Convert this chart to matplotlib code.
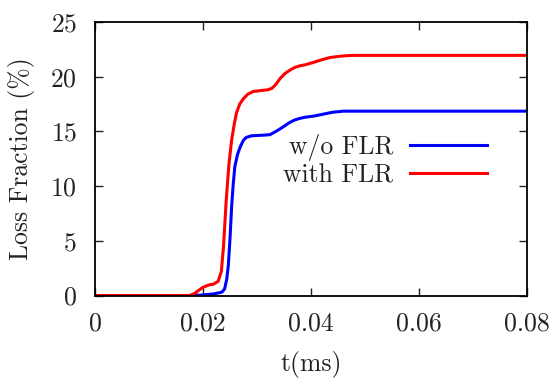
import matplotlib
matplotlib.use("Agg")
import matplotlib.pyplot as plt

plt.rcParams["font.family"] = ["cmr10", "DejaVu Serif"]
plt.rcParams["axes.formatter.use_mathtext"] = True
plt.rcParams["mathtext.fontset"] = "cm"

# Loss fraction (%) vs time (ms)
t_wo = [0.0, 0.018, 0.020, 0.022, 0.0235, 0.024, 0.0244, 0.0247, 0.025, 0.0253,
        0.0256, 0.0259, 0.0264, 0.0269, 0.0275, 0.028, 0.029, 0.031, 0.0324,
        0.0335, 0.0345, 0.036, 0.037, 0.038, 0.039, 0.0405, 0.042, 0.044,
        0.046, 0.06, 0.08]
loss_wo = [0.0, 0.0, 0.05, 0.15, 0.3, 0.6, 1.5, 2.8, 5.2, 8.1,
           10.2, 11.8, 12.9, 13.6, 14.2, 14.45, 14.6, 14.65, 14.7,
           15.0, 15.3, 15.8, 16.05, 16.2, 16.3, 16.4, 16.55, 16.75,
           16.85, 16.85, 16.85]

t_with = [0.0, 0.0175, 0.0185, 0.019, 0.020, 0.021, 0.022, 0.0228, 0.0234, 0.0238,
          0.0243, 0.0248, 0.0253, 0.0258, 0.0262, 0.0268, 0.0275, 0.0283, 0.0293,
          0.031, 0.032, 0.0328, 0.0335, 0.0343, 0.0352, 0.0361, 0.037, 0.038,
          0.039, 0.0404, 0.042, 0.0435, 0.045, 0.0465, 0.048, 0.06, 0.08]
loss_with = [0.0, 0.0, 0.2, 0.4, 0.75, 0.95, 1.05, 1.3, 2.2, 4.5,
             8.7, 12.0, 14.2, 15.7, 16.7, 17.5, 18.0, 18.4, 18.65,
             18.75, 18.8, 18.95, 19.3, 19.85, 20.3, 20.6, 20.85, 21.0,
             21.1, 21.3, 21.55, 21.75, 21.85, 21.92, 21.95, 21.95, 21.95]

labels = ["w/o FLR", "with FLR"]
x_ticks = [0, 0.02, 0.04, 0.06, 0.08]
x_tick_labels = ["0", "0.02", "0.04", "0.06", "0.08"]
y_ticks = [0, 5, 10, 15, 20, 25]

fs = 18.5
fig = plt.figure(figsize=(5.52, 3.85), dpi=100)
ax = fig.add_axes([95 / 552, 1 - 295.5 / 385, 432 / 552, 273.5 / 385])

ax.plot(t_wo, loss_wo, color="#0000ff", linewidth=2.2, label=labels[0])
ax.plot(t_with, loss_with, color="#ff0000", linewidth=2.2, label=labels[1])

ax.set_xlim(0, 0.08)
ax.set_ylim(0, 25)
ax.set_xticks(x_ticks)
ax.set_xticklabels(x_tick_labels)
ax.set_yticks(y_ticks)
ax.tick_params(direction="in", top=True, right=True, length=6, width=1,
               labelsize=fs, colors="#222222")
ax.tick_params(axis="x", pad=12)
ax.tick_params(axis="y", pad=13)
for spine in ax.spines.values():
    spine.set_linewidth(1.3)

ax.set_xlabel("t(ms)", fontsize=fs, labelpad=11, color="#222222")
ax.set_ylabel("Loss Fraction (%)", fontsize=fs, labelpad=11, color="#222222")

ax.legend(loc="center right", bbox_to_anchor=(0.961, 0.494), frameon=False,
          markerfirst=False, fontsize=fs, handlelength=3.0, handletextpad=0.65,
          labelspacing=0.1, labelcolor="#222222")

fig.savefig("out.png", dpi=100)
